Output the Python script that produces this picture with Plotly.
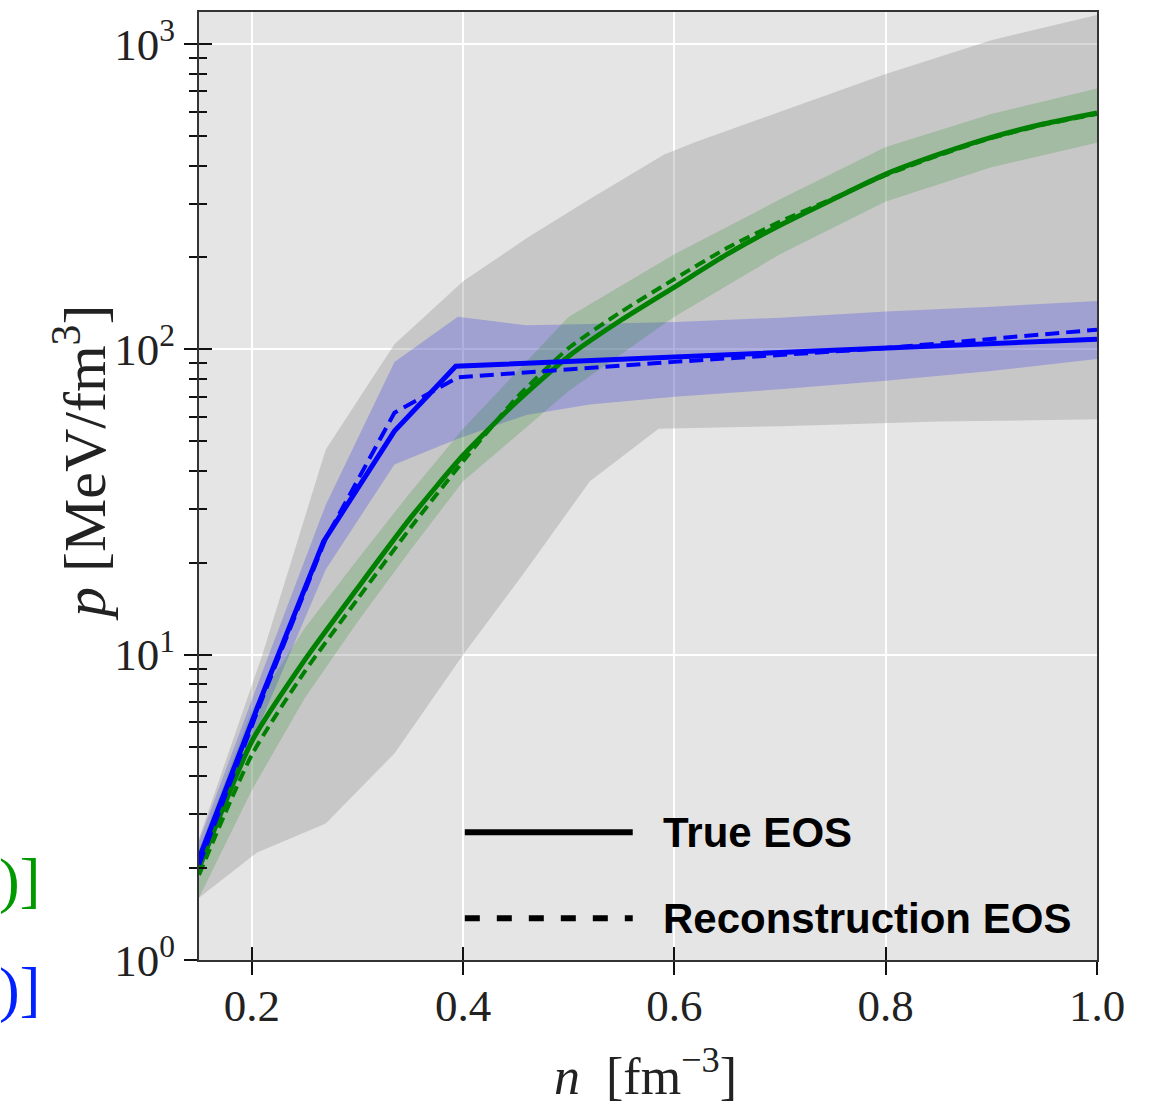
import plotly.graph_objects as go

# ---------------- data ----------------
# outer grey band (prior)
n_gray_hi = [0.15, 0.21, 0.27, 0.30, 0.335, 0.40, 0.46, 0.52, 0.59, 0.62, 0.80, 0.90, 1.00]
p_gray_hi = [2.5, 10, 47, 68, 104, 167, 231, 311, 434, 478, 798, 1030, 1244]
n_gray_lo = [0.15, 0.205, 0.27, 0.335, 0.40, 0.46, 0.52, 0.585, 0.70, 0.85, 1.00]
p_gray_lo = [1.6, 2.25, 2.8, 4.75, 10, 19, 37, 55, 56, 58, 59]

# green EOS
n_green = [0.15, 0.20, 0.25, 0.30, 0.35, 0.40, 0.45, 0.50, 0.55, 0.60, 0.65, 0.70,
           0.75, 0.80, 0.85, 0.90, 0.95, 1.00]
p_green_true = [2.0, 5.2, 9.6, 16.5, 28, 45, 67, 95, 125, 160, 205, 255,
                310, 375, 435, 495, 548, 595]
p_green_reco = [1.9, 4.7, 8.8, 15.2, 26, 43, 69, 101, 133, 170, 215, 262,
                312, 372, 432, 492, 545, 590]
n_green_band = [0.15, 0.20, 0.25, 0.30, 0.35, 0.40, 0.50, 0.60, 0.70, 0.80, 0.90, 1.00]
p_green_hi = [2.3, 6.6, 12.2, 20.5, 34, 55, 128, 205, 310, 460, 590, 715]
p_green_lo = [1.6, 3.6, 7.2, 12.8, 22, 37, 73, 128, 205, 305, 395, 475]

# blue EOS
n_blue_true = [0.15, 0.21, 0.268, 0.335, 0.393, 1.00]
p_blue_true = [2.15, 7.4, 23.5, 54, 88, 108]
n_blue_reco = [0.15, 0.21, 0.27, 0.335, 0.395, 0.60, 0.80, 1.00]
p_blue_reco = [2.05, 7.2, 24, 62, 81, 91, 101, 116]
n_blue_band = [0.15, 0.21, 0.27, 0.335, 0.395, 0.46, 0.52, 0.60, 0.70, 0.80, 0.90, 1.00]
p_blue_hi = [2.45, 8.8, 31, 91, 128, 120, 121, 123, 127, 133, 138, 144]
p_blue_lo = [1.9, 6.2, 19, 42, 51, 61, 66, 70, 74, 79, 85, 93]

x_ticks = [0.2, 0.4, 0.6, 0.8, 1.0]
x_ticktext = ["0.2", "0.4", "0.6", "0.8", "1.0"]
y_ticks = [1, 10, 100, 1000]
y_ticktext = ["10<sup>0</sup>", "10<sup>1</sup>", "10<sup>2</sup>", "10<sup>3</sup>"]
y_minor = [m * 10 ** e for e in range(0, 3) for m in range(2, 10)]

legend_labels = ["True EOS", "Reconstruction EOS"]

# ---------------- figure ----------------
fig = go.Figure()


def band(nx_hi, hi, nx_lo, lo, color):
    fig.add_trace(go.Scatter(
        x=list(nx_hi) + list(nx_lo)[::-1], y=list(hi) + list(lo)[::-1],
        mode="lines", line=dict(width=0), fill="toself", fillcolor=color,
        showlegend=False, hoverinfo="skip"))


band(n_gray_hi, p_gray_hi, n_gray_lo, p_gray_lo, "rgba(128,128,128,0.30)")
band(n_blue_band, p_blue_hi, n_blue_band, p_blue_lo, "rgba(0,0,255,0.19)")
band(n_green_band, p_green_hi, n_green_band, p_green_lo, "rgba(0,128,0,0.18)")

GREEN = "#008000"
BLUE = "#0000ff"
fig.add_trace(go.Scatter(x=n_green, y=p_green_true, mode="lines",
                         line=dict(color=GREEN, width=5, shape="spline", smoothing=0.6),
                         showlegend=False))
fig.add_trace(go.Scatter(x=n_green, y=p_green_reco, mode="lines",
                         line=dict(color=GREEN, width=4, dash="11px,6px", shape="spline",
                                   smoothing=0.6), showlegend=False))
fig.add_trace(go.Scatter(x=n_blue_true, y=p_blue_true, mode="lines",
                         line=dict(color=BLUE, width=5), showlegend=False))
fig.add_trace(go.Scatter(x=n_blue_reco, y=p_blue_reco, mode="lines",
                         line=dict(color=BLUE, width=4, dash="14px,7px"), showlegend=False))

# invisible trace to carry the overlay axes (inward tick halves)
fig.add_trace(go.Scatter(x=n_gray_lo, y=p_gray_lo, mode="lines", line=dict(width=0),
                         xaxis="x2", yaxis="y2", showlegend=False, hoverinfo="skip"))

XR = [0.15, 1.0]
YR = [0, 3.105]
tickfont = dict(family="Liberation Serif", size=45, color="#222")

fig.update_layout(
    width=1154, height=1105,
    margin=dict(l=199, r=57, t=10, b=145),
    paper_bgcolor="white", plot_bgcolor="#e5e5e5",
    showlegend=False,
    xaxis=dict(range=XR, tickvals=x_ticks, ticktext=x_ticktext, ticks="outside",
               ticklen=13, tickwidth=2, tickcolor="#111", tickfont=tickfont,
               ticklabelstandoff=-8,
               showgrid=True, gridcolor="white", gridwidth=2, zeroline=False,
               showline=True, linecolor="#333", linewidth=2, mirror=True),
    yaxis=dict(type="log", range=YR, tickvals=y_ticks, ticktext=y_ticktext,
               ticks="outside", ticklen=13, tickwidth=2, tickcolor="#111",
               tickfont=tickfont, showgrid=True, gridcolor="white", gridwidth=2,
               zeroline=False, showline=True, linecolor="#333", linewidth=2, mirror=True,
               minor=dict(tickvals=y_minor, ticks="outside", ticklen=8, tickwidth=1.5,
                          tickcolor="#111", showgrid=False)),
    xaxis2=dict(range=XR, overlaying="x", anchor="y", side="bottom", tickvals=x_ticks,
                ticks="inside", ticklen=13, tickwidth=2, tickcolor="#111",
                showticklabels=False, showgrid=False, zeroline=False, showline=False),
    yaxis2=dict(type="log", range=YR, overlaying="y", anchor="x", side="left",
                tickvals=y_ticks, ticks="inside", ticklen=13, tickwidth=2, tickcolor="#111",
                showticklabels=False, showgrid=False, zeroline=False, showline=False,
                minor=dict(tickvals=y_minor, ticks="inside", ticklen=8, tickwidth=1.5,
                           tickcolor="#111", showgrid=False)),
)

# legend (drawn manually, matching the reference's long line samples)
leg_y = [0.1347, 0.044]
fig.add_shape(type="line", xref="paper", yref="paper", x0=0.296, x1=0.483,
              y0=leg_y[0], y1=leg_y[0], line=dict(color="black", width=6))
fig.add_shape(type="line", xref="paper", yref="paper", x0=0.296, x1=0.483,
              y0=leg_y[1], y1=leg_y[1], line=dict(color="black", width=6, dash="15px,17px"))
for lbl, yy in zip(legend_labels, leg_y):
    fig.add_annotation(xref="paper", yref="paper", x=0.514, y=yy, text=lbl,
                       showarrow=False, xanchor="left", yanchor="middle",
                       font=dict(family="Liberation Sans", size=42, color="black",
                                 weight="bold"))

# axis titles
fig.add_annotation(xref="paper", yref="paper", x=(645 - 199) / 898, y=(960 - 1073) / 950,
                   text="<i>n</i>  [fm<sup>−3</sup>]", showarrow=False,
                   xanchor="center", yanchor="middle",
                   font=dict(family="Liberation Serif", size=52, color="#222"))
fig.add_annotation(xref="paper", yref="paper", x=(80 - 199) / 898, y=(960 - 462) / 950,
                   text="<i>p</i> [MeV/fm<sup>3</sup>]", showarrow=False, textangle=-90,
                   xanchor="center", yanchor="middle",
                   font=dict(family="Liberation Serif", size=60, color="#222"))

# partially visible text at the left edge (cut off in the reference)
fig.add_annotation(xref="paper", yref="paper", x=(42 - 199) / 898, y=(960 - 880) / 950,
                   text=")]", showarrow=False, xanchor="right", yanchor="middle",
                   font=dict(family="Liberation Serif", size=62, color="#009900"))
fig.add_annotation(xref="paper", yref="paper", x=(42 - 199) / 898, y=(960 - 990) / 950,
                   text=")]", showarrow=False, xanchor="right", yanchor="middle",
                   font=dict(family="Liberation Serif", size=62, color="#0022ff"))

fig.write_html("out.html")
